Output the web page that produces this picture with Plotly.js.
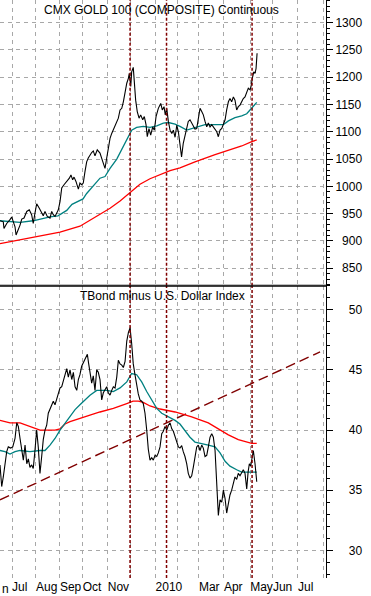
<!DOCTYPE html>
<html>
<head>
<meta charset="utf-8">
<script src="https://cdn.plot.ly/plotly-3.0.1.min.js"></script>
<style>html,body{margin:0;padding:0;background:#fff;}#chart{width:371px;height:596px;}</style>
</head>
<body>
<div id="chart"></div>
<script>
// x unit: trading session index (session 0 = first session of June 2009)
const xRange = [11.41, 297.6];
const goldRange = [818, 1341.5];
const spreadRange = [27.7, 52.0];
const monthTickSessions = [22, 43, 64, 84, 106, 126, 148, 167, 186, 208, 231, 251, 273, 295];
const monthTickLabels = ['Jul', 'Aug', 'Sep', 'Oct', 'Nov', '', '2010', '', 'Mar', 'Apr', 'May', 'Jun', 'Jul', ''];
const eventSessions = [125.6, 157.6, 232.7];

// CMX GOLD 100 (COMPOSITE) Continuous
const goldX = [11.4,14.3,14.9,17.3,20.2,21.7,23.1,24.6,25.5,27.5,29.0,30.5,32.5,34.9,37.1,39.2,40.6,42.1,43.6,45.9,48.0,49.4,50.9,52.9,55.3,56.8,58.2,59.7,61.2,62.6,64.1,65.6,67.6,70.0,72.3,73.7,75.2,76.4,78.1,80.2,81.6,83.1,84.5,86.0,87.5,88.9,90.4,91.9,93.3,94.8,96.8,99.2,101.2,103.6,105.1,106.5,108.0,109.5,111.5,113.3,115.3,116.8,118.3,119.7,121.2,122.7,124.1,124.9,126.2,127.0,128.4,129.3,130.5,131.9,133.5,134.9,136.7,138.1,139.6,140.7,142.2,143.7,145.5,146.9,148.4,150.4,152.5,153.9,155.4,156.5,157.8,159.2,160.7,162.2,163.6,165.1,166.6,168.0,169.4,170.8,172.3,173.8,175.3,176.7,178.2,179.7,181.1,182.6,184.1,185.5,187.0,188.5,189.9,191.4,192.9,194.3,195.8,197.3,198.7,200.2,201.7,203.1,204.6,206.1,207.5,209.0,210.4,211.9,213.3,214.8,216.3,217.7,219.2,220.6,222.1,223.6,225.0,226.5,228.0,229.4,230.9,231.8,232.9,234.2,235.3,236.2,237.1];
const goldClose = [937,935,923,932,939,944,935,926,911,920,929,940,942,954,957,948,932,951,968,960,951,946,954,945,942,954,948,945,951,957,972,997,1003,1009,1015,1021,1012,1017,1009,995,1006,1003,1006,1027,1045,1052,1058,1062,1065,1056,1067,1061,1048,1033,1052,1073,1088,1097,1106,1116,1125,1140,1143,1155,1174,1189,1198,1207,1183,1210,1218,1189,1158,1137,1125,1131,1122,1128,1113,1091,1106,1094,1109,1103,1128,1143,1152,1140,1146,1131,1143,1119,1103,1097,1103,1090,1112,1100,1075,1054,1079,1091,1103,1119,1122,1116,1109,1105,1106,1125,1143,1137,1131,1119,1109,1116,1109,1113,1109,1106,1100,1091,1103,1106,1113,1122,1140,1155,1161,1155,1164,1158,1140,1146,1149,1155,1161,1164,1174,1180,1177,1183,1198,1210,1207,1216,1244];
const goldMaShortX = [11.4,20.2,29.0,40.4,50.9,55.3,62.3,65.8,70.0,74.6,78.8,84.3,87.5,91.9,94.8,99.2,103.6,108.0,113.9,119.7,124.1,127.0,131.4,137.2,143.1,149.0,154.8,159.2,165.1,169.4,175.3,182.6,191.4,200.2,207.5,211.9,217.7,223.6,228.0,230.9,233.5,236.8];
const goldMaShort = [937,936,934,937,942,944,946,950,956,967,972,977,987,998,1006,1015,1018,1033,1050,1073,1091,1103,1108,1110,1108,1111,1116,1117,1114,1110,1103,1107,1113,1113,1113,1120,1126,1129,1133,1140,1146,1154];
const goldMaLongX = [11.4,29.0,46.5,64.1,81.6,94.8,103.6,108.0,116.8,125.6,134.3,143.1,151.9,160.7,169.4,182.6,200.2,213.3,223.6,232.4,236.8];
const goldMaLong = [895,902,909,916,927,944,954,960,973,989,1004,1014,1021,1029,1034,1045,1058,1067,1074,1082,1085];
const goldTicks = [850,900,950,1000,1050,1100,1150,1200,1250,1300];
const goldTickText = ['\u2007850','\u2007900','\u2007950','1000','1050','1100','1150','1200','1250','1300'];

// TBond minus U.S. Dollar Index
const spreadX = [11.4,12.9,14.3,15.8,17.3,18.7,20.8,22.6,24.6,26.1,27.5,29.0,30.5,31.9,33.4,34.9,36.3,37.7,39.2,40.6,42.1,43.6,45.0,46.5,48.0,49.4,50.9,52.4,53.8,55.3,56.8,58.2,59.7,61.2,62.6,64.1,65.6,67.0,70.0,71.4,72.9,74.4,75.8,77.3,78.8,80.2,81.6,83.1,84.5,86.0,88.1,89.1,90.4,91.9,93.3,94.8,96.3,97.7,99.2,100.7,102.1,103.6,105.1,106.5,108.0,109.5,110.9,112.4,113.9,115.3,116.8,118.3,119.7,121.2,122.7,124.1,125.6,127.0,128.4,129.9,131.4,132.8,134.3,135.8,137.2,138.7,140.2,141.6,143.1,144.6,146.0,147.5,149.0,150.4,151.9,153.4,154.8,156.3,157.8,159.2,160.7,162.2,163.6,165.1,166.6,168.0,169.4,170.9,172.3,173.8,175.3,176.7,178.2,179.7,181.1,182.6,184.1,185.5,187.0,188.5,189.9,191.4,192.9,194.3,195.8,197.3,198.7,200.2,201.7,203.1,204.6,206.1,207.5,209.0,210.4,211.9,213.3,214.8,216.3,217.7,219.2,220.6,222.1,223.6,225.0,226.5,228.0,229.2,230.3,231.5,232.7,233.8,235.3,236.2,236.8];
const spreadClose = [37.1,35.3,36.1,37.2,38.2,38.6,38.5,38.6,39.3,40.6,40.3,39.3,38.2,37.5,38.75,37.2,37.6,36.9,37.1,36.8,38.3,40.0,38.6,36.4,37.8,39.2,40.0,40.4,41.4,41.8,42.1,42.4,42.1,42.6,43.2,43.5,43.6,44.1,45.1,44.4,45.0,44.2,44.8,43.6,43.3,44.2,44.6,45.3,45.6,45.8,46.3,45.6,44.7,43.9,44.5,43.3,45.0,44.8,44.2,42.5,43.1,43.4,43.6,43.1,42.9,43.3,43.6,43.5,44.4,45.8,45.5,45.4,45.2,45.7,47.4,48.1,48.5,47.2,45.5,44.6,43.6,43.0,42.5,42.4,42.2,41.4,40.0,38.4,37.5,37.7,37.5,37.9,37.8,38.1,38.6,39.7,39.9,40.3,40.0,40.4,40.6,40.1,39.9,39.4,39.1,38.6,38.5,38.7,38.2,37.8,37.2,36.4,36.0,36.2,36.9,37.8,38.6,38.75,38.3,38.75,38.5,37.8,37.9,38.6,39.4,39.7,39.4,38.3,35.0,32.9,34.2,34.0,35.0,34.3,33.1,33.9,34.6,35.0,35.7,36.1,35.9,36.4,36.2,36.5,36.7,36.4,35.1,36.5,37.2,37.0,37.8,38.3,37.2,36.5,35.7];
const spreadMaShortX = [11.4,15.8,20.2,24.6,29.0,37.7,46.5,50.9,55.3,59.7,64.1,68.5,72.9,77.3,81.6,86.0,90.4,96.3,105.1,110.9,116.8,122.7,127.0,131.4,135.8,140.2,144.6,149.0,153.4,159.2,165.1,169.4,173.8,178.2,182.6,188.5,194.3,200.2,204.6,209.0,213.3,219.2,223.6,228.0,233.8,236.8];
const spreadMaShort = [38.3,38.2,38.0,38.2,38.3,38.2,38.3,38.3,38.75,39.3,40.0,40.6,41.1,41.7,42.1,42.5,42.9,43.3,43.3,43.2,43.5,44.0,44.7,44.6,44.0,43.2,42.5,41.8,41.4,41.1,40.8,40.5,39.9,39.4,39.0,38.9,38.75,38.6,38.1,37.4,37.0,36.7,36.5,36.5,36.5,36.5];
const spreadMaLongX = [11.4,20.2,29.0,37.7,46.5,55.3,59.7,64.1,68.5,72.9,81.6,90.4,99.2,110.9,122.7,128.2,132.8,137.2,143.1,151.9,165.1,179.7,194.3,203.1,211.9,220.6,232.4,236.8];
const spreadMaLong = [40.8,40.6,40.6,40.3,40.0,40.0,40.0,40.1,40.5,40.7,41.0,41.25,41.5,41.8,42.2,42.4,42.4,42.3,42.0,41.75,41.5,41.1,40.6,40.1,39.6,39.2,38.9,38.9];
const trendX = [11.4, 292.4];
const trendY = [34.2, 46.5];
const spreadTicks = [30, 35, 40, 45, 50];
const spreadTickText = ['\u2007\u200730','\u2007\u200735','\u2007\u200740','\u2007\u200745','\u2007\u200750'];

const BLACK = '#000000', TEAL = '#008080', RED = '#ff0000', MAROON = '#800000';
const GRID = '#a8a8a8';
const FONT = 'Liberation Sans, Arial, sans-serif';

// vertical event markers as line traces through each panel's axes
function vLines(sessions, range) {
  const x = [], y = [];
  sessions.forEach(s => { x.push(s, s, null); y.push(range[0], range[1], null); });
  return {x, y};
}
const ev2 = vLines(eventSessions, goldRange), ev1 = vLines(eventSessions, spreadRange);
const eventStyle = {color: MAROON, width: 1.5, dash: '3px,2px'};

const traces = [
  {x: goldMaLongX, y: goldMaLong, xaxis: 'x', yaxis: 'y2', mode: 'lines', line: {color: RED, width: 1.3}},
  {x: goldMaShortX, y: goldMaShort, xaxis: 'x', yaxis: 'y2', mode: 'lines', line: {color: TEAL, width: 1.3}},
  {x: goldX, y: goldClose, xaxis: 'x', yaxis: 'y2', mode: 'lines', line: {color: BLACK, width: 1.1}},
  {x: ev2.x, y: ev2.y, xaxis: 'x', yaxis: 'y2', mode: 'lines', line: eventStyle},
  {x: xRange, y: [goldRange[0], goldRange[0]], xaxis: 'x', yaxis: 'y2', mode: 'lines', line: {color: BLACK, width: 2}},
  {x: trendX, y: trendY, xaxis: 'x', yaxis: 'y', mode: 'lines', line: {color: MAROON, width: 1.4, dash: '10px,5px'}},
  {x: spreadMaLongX, y: spreadMaLong, xaxis: 'x', yaxis: 'y', mode: 'lines', line: {color: RED, width: 1.3}},
  {x: spreadMaShortX, y: spreadMaShort, xaxis: 'x', yaxis: 'y', mode: 'lines', line: {color: TEAL, width: 1.3}},
  {x: spreadX, y: spreadClose, xaxis: 'x', yaxis: 'y', mode: 'lines', line: {color: BLACK, width: 1.1}},
  {x: ev1.x, y: ev1.y, xaxis: 'x', yaxis: 'y', mode: 'lines', line: eventStyle},
  {x: xRange, y: [spreadRange[1], spreadRange[1]], xaxis: 'x', yaxis: 'y', mode: 'lines', line: {color: BLACK, width: 2}}
];

const split = 1 - 285.7 / 578;
const gridCommon = {showgrid: true, gridcolor: GRID, gridwidth: 1, griddash: '4px,4px'};

const yCommon = Object.assign({
  side: 'right', tickmode: 'array', ticks: 'outside', ticklen: 6, tickcolor: '#000', tickwidth: 1,
  showline: true, linecolor: '#000', linewidth: 1,
  zeroline: false, fixedrange: true,
  tickfont: {family: FONT, size: 12, color: '#000'}
}, gridCommon);

const layout = {
  width: 371, height: 596,
  margin: {l: 0, r: 45, t: 0, b: 18, pad: 0},
  paper_bgcolor: '#ffffff', plot_bgcolor: '#ffffff',
  showlegend: false, hovermode: false,
  font: {family: FONT, size: 12, color: '#000'},
  xaxis: Object.assign({
    range: xRange, tickmode: 'array', tickvals: monthTickSessions, ticktext: monthTickLabels,
    ticks: '', tickangle: 0, ticklabelposition: 'outside right',
    zeroline: false, showline: false, anchor: 'y', fixedrange: true,
    tickfont: {family: FONT, size: 12, color: '#000'}
  }, gridCommon),
  yaxis: Object.assign({}, yCommon, {
    domain: [0, split], range: spreadRange, anchor: 'x',
    tickvals: spreadTicks, ticktext: spreadTickText,
    minor: {tick0: 0, dtick: 1, ticks: 'outside', ticklen: 3, tickcolor: '#000', showgrid: false}
  }),
  yaxis2: Object.assign({}, yCommon, {
    domain: [split, 1], range: goldRange, anchor: 'x',
    tickvals: goldTicks, ticktext: goldTickText,
    minor: {tick0: 0, dtick: 10, ticks: 'outside', ticklen: 3, tickcolor: '#000', showgrid: false}
  }),
  annotations: [
    {xref: 'paper', yref: 'paper', x: 0.496, y: 1 - 10 / 578, xanchor: 'center', yanchor: 'middle',
     text: 'CMX GOLD 100 (COMPOSITE) Continuous', showarrow: false, font: {family: FONT, size: 12, color: '#000'}},
    {xref: 'paper', yref: 'paper', x: 0.498, y: 1 - 296 / 578, xanchor: 'center', yanchor: 'middle',
     text: 'TBond minus U.S. Dollar Index', showarrow: false, font: {family: FONT, size: 12, color: '#000'}},
    {xref: 'paper', yref: 'paper', x: 0, y: 0, yshift: -2, xanchor: 'left', yanchor: 'top',
     text: 'n', showarrow: false, font: {family: FONT, size: 12, color: '#000'}}
  ]
};

Plotly.newPlot('chart', traces, layout, {displayModeBar: false, staticPlot: true});
</script>
</body>
</html>
